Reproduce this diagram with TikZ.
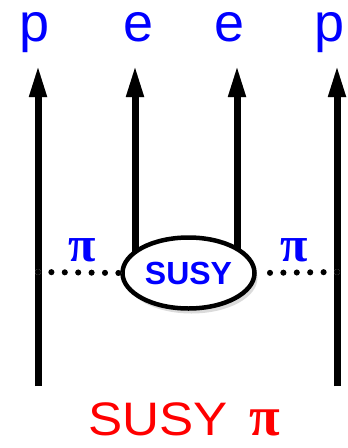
\documentclass[tikz,border=0pt]{standalone}
\usepackage{fontspec}
\setmainfont{Liberation Sans}
\newfontfamily\pifont{Liberation Serif}
\usepackage{tikz}
\usetikzlibrary{arrows.meta,shapes.geometric,shadows}

\newcommand{\pisym}{{\pifont\bfseries π}}

\begin{document}
\begin{tikzpicture}[x=1pt, y=-1pt,
      leg/.style={line width=7pt, -{Triangle[length=32pt,width=16pt]}},
      legshade/.style={draw=black!28, shift={(4,5)}},
      pionline/.style={line width=6pt, line cap=round,
                       dash pattern=on 0pt off 13.4pt},
      toplabel/.style={anchor=base, inner sep=0pt, text height=30pt, text depth=12pt,
                       text=blue, font=\fontsize{54}{54}\selectfont},
      pilabel/.style={text=blue, font=\fontsize{50}{50}\selectfont},
      blob/.style={ellipse, draw, line width=4.5pt, fill=white, inner sep=0pt,
                   minimum width=132pt, minimum height=71pt,
                   text=blue, font=\fontsize{32}{32}\selectfont\bfseries,
                   drop shadow={shadow xshift=3pt, shadow yshift=-5pt, fill=black!28}}
  ]
  \useasboundingbox (0,0) rectangle (348,448);

  %% ---- leg end points ----
  \coordinate (p1b) at (38,386);   \coordinate (p1t) at (38,65);
  \coordinate (e1b) at (135,273);  \coordinate (e1t) at (135,65);
  \coordinate (e2b) at (237,273);  \coordinate (e2t) at (237,65);
  \coordinate (p2b) at (337,386);  \coordinate (p2t) at (337,65);

  %% ---- shadows of the legs ----
  \foreach \b/\t in {p1b/p1t, e1b/e1t, e2b/e2t, p2b/p2t}
    \draw[leg, legshade] (\b) -- (\t);

  %% ---- legs ----
  \foreach \b/\t in {p1b/p1t, e1b/e1t, e2b/e2t, p2b/p2t}
    \draw[leg] (\b) -- (\t);

  %% ---- SUSY blob ----
  \node[blob] (susy) at (188.5,273) {\raisebox{-1pt}{SUSY}};

  %% ---- pion lines ----
  \coordinate (pi1) at (38,272);
  \coordinate (pi2) at (337,272);
  \draw[pionline, draw=black!28, shift={(3,6)}] (pi1) -- (susy.west);
  \draw[pionline, draw=black!28, shift={(3,6)}] (pi2) -- (susy.east);
  \draw[pionline] (pi1) -- (susy.west);
  \draw[pionline] (pi2) -- (susy.east);

  %% ---- labels ----
  \node[toplabel] (lp1) at (35,41) {p};
  \node[toplabel] (le1) at (139,41) {e};
  \node[toplabel] (le2) at (230,41) {e};
  \node[toplabel] (lp2) at (330,41) {p};
  \node[pilabel] (lpi1) at (82,250) {\pisym};
  \node[pilabel] (lpi2) at (294,250) {\pisym};

  \node[anchor=base west, inner sep=0pt, text=red,
        font=\fontsize{47}{47}\selectfont] (title)
      at (88,435) {\scalebox{1.09}[1]{SUSY}\hspace{22pt}{\fontsize{56}{56}\selectfont\pisym}};

\end{tikzpicture}
\end{document}
